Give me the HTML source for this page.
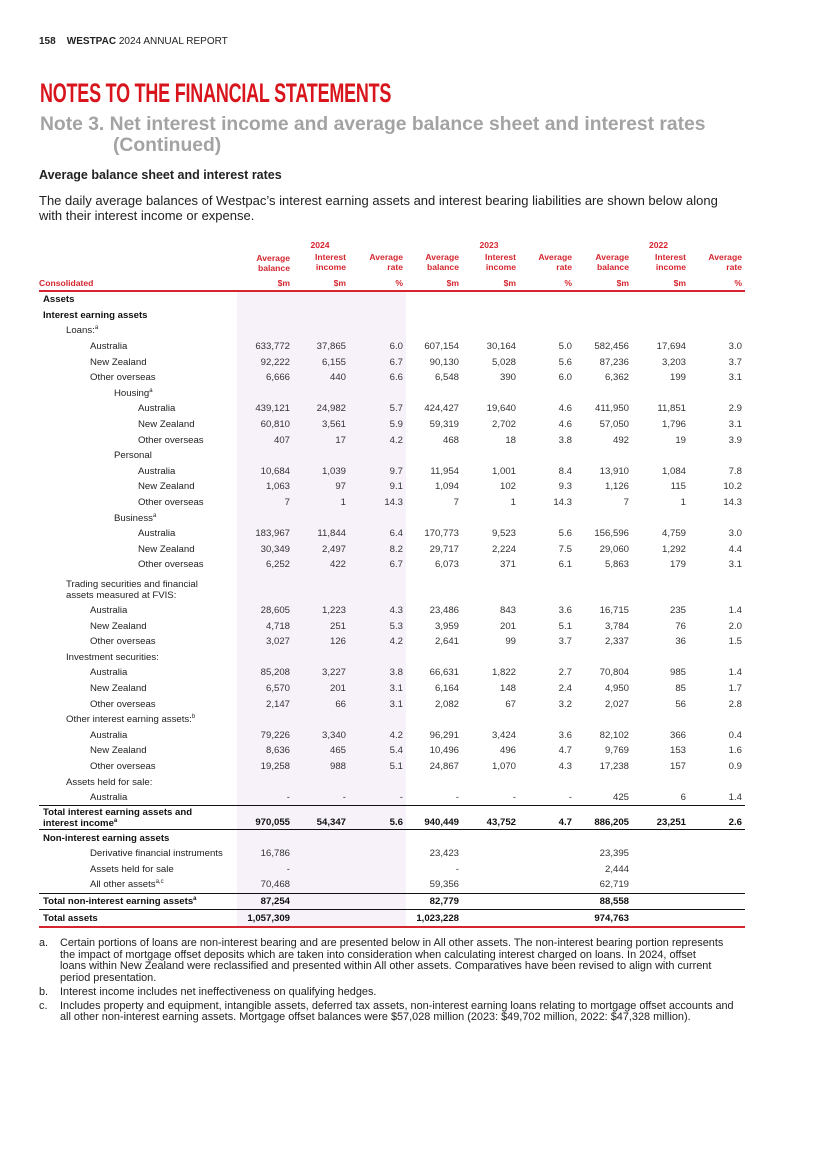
<!DOCTYPE html>
<html><head><meta charset="utf-8">
<style>
body{margin:0;width:825px;height:1168px;background:#fff;position:relative;font-family:"Liberation Sans",sans-serif;color:#222;overflow:hidden}
.abs{position:absolute;white-space:nowrap}
#hdr{left:39px;top:36px;font-size:10px;color:#222}
#title{left:40px;top:78px;font-size:27px;font-weight:bold;color:#d8151c;transform:scaleX(0.665);transform-origin:left top;letter-spacing:-0.3px}
#note{left:40px;top:114px;font-size:19.3px;font-weight:bold;color:#a3a3a3;line-height:21px}
#sub{left:39px;top:168px;font-size:12.5px;font-weight:bold}
#intro{left:39px;top:193px;font-size:13px;line-height:15px}
table{position:absolute;left:39px;top:240px;border-collapse:collapse;table-layout:fixed;width:706px;font-size:9.6px}
td,th{padding:0 3px 0 0;text-align:right;height:15.6px;line-height:11px;vertical-align:middle;color:#333}
th{color:#d5262f;font-weight:bold;font-size:8.6px;line-height:10px;height:auto}
td.l{text-align:left;color:#222;padding:0}
tr.h2 td{height:27px}
tr.tt.h2 td{height:22px}
tr.b td{font-weight:bold;color:#111}
tr.tt td{border-top:1.2px solid #111}
tr.last td{border-bottom:2px solid #d5262f}
thead tr.u th{border-bottom:2px solid #d5262f;padding-top:5px;padding-bottom:2px}
.sh{background:#f7f1fa}
sup{font-size:6px;line-height:0}
#foot{left:39px;top:938px;font-size:10.9px;line-height:11.7px;color:#222}
#foot div{position:relative;padding-left:21px;margin-bottom:2px}
#foot span.k{position:absolute;left:0}
</style></head><body>
<div class="abs" id="hdr"><b>158&nbsp;&nbsp;&nbsp;&nbsp;WESTPAC</b> 2024 ANNUAL REPORT</div>
<div class="abs" id="title">NOTES TO THE FINANCIAL STATEMENTS</div>
<div class="abs" id="note">Note 3. Net interest income and average balance sheet and interest rates<br><span style="padding-left:73px">(Continued)</span></div>
<div class="abs" id="sub">Average balance sheet and interest rates</div>
<div class="abs" id="intro">The daily average balances of Westpac’s interest earning assets and interest bearing liabilities are shown below along<br>with their interest income or expense.</div>

<table id="tbl">
<colgroup><col style="width:198px"><col style="width:56px"><col style="width:56px"><col style="width:57px"><col style="width:56px"><col style="width:57px"><col style="width:56px"><col style="width:57px"><col style="width:57px"><col style="width:56px"></colgroup>
<thead>
<tr><th></th><th colspan="3" style="text-align:center">2024</th><th colspan="3" style="text-align:center">2023</th><th colspan="3" style="text-align:center">2022</th></tr>
<tr><th></th><th style="padding-top:3px">Average<br>balance</th><th>Interest<br>income</th><th>Average<br>rate</th><th>Average<br>balance</th><th>Interest<br>income</th><th>Average<br>rate</th><th>Average<br>balance</th><th>Interest<br>income</th><th>Average<br>rate</th></tr>
<tr class="u"><th style="text-align:left;padding-left:0">Consolidated</th><th>$m</th><th>$m</th><th>%</th><th>$m</th><th>$m</th><th>%</th><th>$m</th><th>$m</th><th>%</th></tr>
</thead>
<tbody id="tb"></tbody>
</table>

<div class="abs" id="foot">
<div><span class="k">a.</span>Certain portions of loans are non-interest bearing and are presented below in All other assets. The non-interest bearing portion represents<br>the impact of mortgage offset deposits which are taken into consideration when calculating interest charged on loans. In 2024, offset<br>loans within New Zealand were reclassified and presented within All other assets. Comparatives have been revised to align with current<br>period presentation.</div>
<div><span class="k">b.</span>Interest income includes net ineffectiveness on qualifying hedges.</div>
<div><span class="k">c.</span>Includes property and equipment, intangible assets, deferred tax assets, non-interest earning loans relating to mortgage offset accounts and<br>all other non-interest earning assets. Mortgage offset balances were $57,028 million (2023: $49,702 million, 2022: $47,328 million).</div>
</div>

<script>
const labels = ["Assets","Interest earning assets","Loans:<sup>a</sup>","Australia","New Zealand","Other overseas","Housing<sup>a</sup>","Australia","New Zealand","Other overseas","Personal","Australia","New Zealand","Other overseas","Business<sup>a</sup>","Australia","New Zealand","Other overseas","Trading securities and financial<br>assets measured at FVIS:","Australia","New Zealand","Other overseas","Investment securities:","Australia","New Zealand","Other overseas","Other interest earning assets:<sup>b</sup>","Australia","New Zealand","Other overseas","Assets held for sale:","Australia","Total interest earning assets and<br>interest income<sup>a</sup>","Non-interest earning assets","Derivative financial instruments","Assets held for sale","All other assets<sup>a,c</sup>","Total non-interest earning assets<sup>a</sup>","Total assets"];
const indents = [0,0,1,2,2,2,3,4,4,4,3,4,4,4,3,4,4,4,1,2,2,2,1,2,2,2,1,2,2,2,1,2,0,0,2,2,2,0,0];
const kinds = ["b","b","","","","","","","","","","","","","","","","","h2","","","","","","","","","","","","","","b h2 tt","b tt","","","","b tt","b tt last"];
const bal2024 = ["","","","633,772","92,222","6,666","","439,121","60,810","407","","10,684","1,063","7","","183,967","30,349","6,252","","28,605","4,718","3,027","","85,208","6,570","2,147","","79,226","8,636","19,258","","-","970,055","","16,786","-","70,468","87,254","1,057,309"];
const int2024 = ["","","","37,865","6,155","440","","24,982","3,561","17","","1,039","97","1","","11,844","2,497","422","","1,223","251","126","","3,227","201","66","","3,340","465","988","","-","54,347","","","","","",""];
const rate2024 = ["","","","6.0","6.7","6.6","","5.7","5.9","4.2","","9.7","9.1","14.3","","6.4","8.2","6.7","","4.3","5.3","4.2","","3.8","3.1","3.1","","4.2","5.4","5.1","","-","5.6","","","","","",""];
const bal2023 = ["","","","607,154","90,130","6,548","","424,427","59,319","468","","11,954","1,094","7","","170,773","29,717","6,073","","23,486","3,959","2,641","","66,631","6,164","2,082","","96,291","10,496","24,867","","-","940,449","","23,423","-","59,356","82,779","1,023,228"];
const int2023 = ["","","","30,164","5,028","390","","19,640","2,702","18","","1,001","102","1","","9,523","2,224","371","","843","201","99","","1,822","148","67","","3,424","496","1,070","","-","43,752","","","","","",""];
const rate2023 = ["","","","5.0","5.6","6.0","","4.6","4.6","3.8","","8.4","9.3","14.3","","5.6","7.5","6.1","","3.6","5.1","3.7","","2.7","2.4","3.2","","3.6","4.7","4.3","","-","4.7","","","","","",""];
const bal2022 = ["","","","582,456","87,236","6,362","","411,950","57,050","492","","13,910","1,126","7","","156,596","29,060","5,863","","16,715","3,784","2,337","","70,804","4,950","2,027","","82,102","9,769","17,238","","425","886,205","","23,395","2,444","62,719","88,558","974,763"];
const int2022 = ["","","","17,694","3,203","199","","11,851","1,796","19","","1,084","115","1","","4,759","1,292","179","","235","76","36","","985","85","56","","366","153","157","","6","23,251","","","","","",""];
const rate2022 = ["","","","3.0","3.7","3.1","","2.9","3.1","3.9","","7.8","10.2","14.3","","3.0","4.4","3.1","","1.4","2.0","1.5","","1.4","1.7","2.8","","0.4","1.6","0.9","","1.4","2.6","","","","","",""];
const cols = [bal2024,int2024,rate2024,bal2023,int2023,rate2023,bal2022,int2022,rate2022];
const indentPx = [4,27,51,75,99];
const tb = document.getElementById('tb');
labels.forEach((lab,i)=>{
  const tr = document.createElement('tr');
  
  
  if(kinds[i]) tr.className = kinds[i];
  const td = document.createElement('td');
  td.className = 'l';
  td.style.paddingLeft = indentPx[indents[i]]+'px';
  td.innerHTML = lab;
  
  
  if(kinds[i].includes('h2')) {td.style.verticalAlign='bottom';td.style.paddingBottom=kinds[i].includes('tt')?'0px':'2px';}
  tr.appendChild(td);
  cols.forEach((c,j)=>{
    const cell = document.createElement('td');
    cell.textContent = c[i];
    
    
    if(j<3) cell.className='sh';
    if(kinds[i].includes('h2')) {cell.style.verticalAlign='bottom';cell.style.paddingBottom=kinds[i].includes('tt')?'1px':'3px';}
    tr.appendChild(cell);
  });
  tb.appendChild(tr);
});
</script>
</body></html>
